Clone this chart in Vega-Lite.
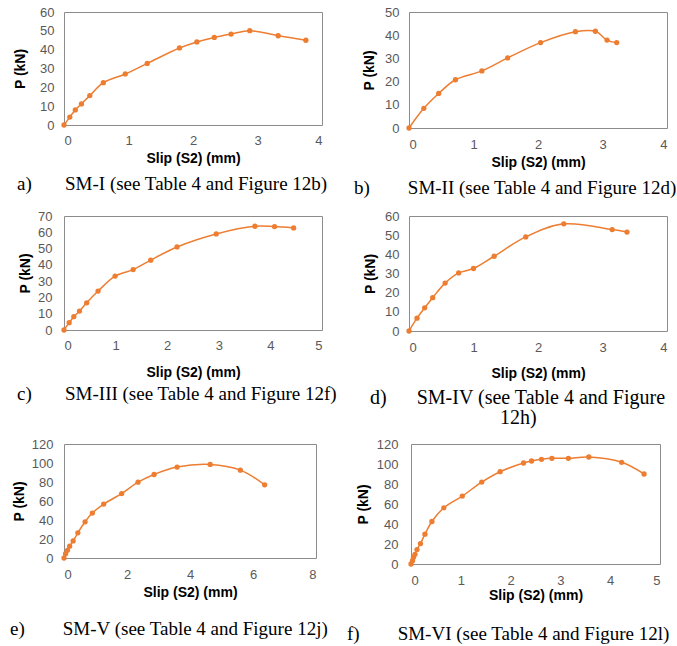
{
  "$schema": "https://vega.github.io/schema/vega-lite/v6.json",
  "background": "white",
  "padding": {"left": 9, "top": 5, "right": 0, "bottom": 0},
  "autosize": {"type": "pad"},
  "datasets": {
    "SM-I": [
      {"slip": 0, "P": 0}, {"slip": 0.09, "P": 4.2}, {"slip": 0.175, "P": 8.0}, {"slip": 0.27, "P": 11.2},
      {"slip": 0.40, "P": 15.6}, {"slip": 0.61, "P": 22.5}, {"slip": 0.95, "P": 27.1}, {"slip": 1.29, "P": 32.7},
      {"slip": 1.79, "P": 40.9}, {"slip": 2.06, "P": 44.1}, {"slip": 2.33, "P": 46.5}, {"slip": 2.59, "P": 48.3},
      {"slip": 2.88, "P": 50.1}, {"slip": 3.32, "P": 47.4}, {"slip": 3.75, "P": 45.0}
    ],
    "SM-II": [
      {"slip": 0, "P": 0}, {"slip": 0.23, "P": 8.5}, {"slip": 0.46, "P": 14.9}, {"slip": 0.72, "P": 20.8},
      {"slip": 1.13, "P": 24.6}, {"slip": 1.53, "P": 30.2}, {"slip": 2.04, "P": 36.8}, {"slip": 2.58, "P": 41.5},
      {"slip": 2.89, "P": 41.7}, {"slip": 3.07, "P": 37.9}, {"slip": 3.22, "P": 36.8}
    ],
    "SM-III": [
      {"slip": 0, "P": 0}, {"slip": 0.10, "P": 4.5}, {"slip": 0.19, "P": 8.2}, {"slip": 0.30, "P": 11.6},
      {"slip": 0.44, "P": 16.7}, {"slip": 0.66, "P": 23.9}, {"slip": 0.99, "P": 33.1}, {"slip": 1.34, "P": 37.1},
      {"slip": 1.68, "P": 42.9}, {"slip": 2.19, "P": 51.0}, {"slip": 2.95, "P": 59.0}, {"slip": 3.70, "P": 63.7},
      {"slip": 4.08, "P": 63.5}, {"slip": 4.45, "P": 62.7}
    ],
    "SM-IV": [
      {"slip": 0, "P": 0}, {"slip": 0.124, "P": 6.7}, {"slip": 0.243, "P": 12.1}, {"slip": 0.367, "P": 17.4},
      {"slip": 0.56, "P": 25.0}, {"slip": 0.77, "P": 30.3}, {"slip": 1.00, "P": 32.6}, {"slip": 1.32, "P": 39.0},
      {"slip": 1.81, "P": 49.1}, {"slip": 2.40, "P": 55.9}, {"slip": 3.15, "P": 52.9}, {"slip": 3.38, "P": 51.6}
    ],
    "SM-V": [
      {"slip": 0, "P": 0}, {"slip": 0.05, "P": 4.6}, {"slip": 0.11, "P": 8.1}, {"slip": 0.18, "P": 12.4},
      {"slip": 0.29, "P": 18.0}, {"slip": 0.44, "P": 26.5}, {"slip": 0.67, "P": 38.1}, {"slip": 0.90, "P": 47.3},
      {"slip": 1.26, "P": 56.8}, {"slip": 1.83, "P": 67.8}, {"slip": 2.35, "P": 79.8}, {"slip": 2.86, "P": 87.9},
      {"slip": 3.59, "P": 95.7}, {"slip": 4.64, "P": 98.5}, {"slip": 5.60, "P": 92.5}, {"slip": 6.37, "P": 77.0}
    ],
    "SM-VI": [
      {"slip": 0, "P": 0}, {"slip": 0.03, "P": 3.3}, {"slip": 0.05, "P": 6.7}, {"slip": 0.08, "P": 9.7},
      {"slip": 0.12, "P": 14.4}, {"slip": 0.19, "P": 20.4}, {"slip": 0.28, "P": 29.8}, {"slip": 0.42, "P": 42.5},
      {"slip": 0.66, "P": 56.2}, {"slip": 1.03, "P": 67.9}, {"slip": 1.42, "P": 81.9}, {"slip": 1.79, "P": 92.3},
      {"slip": 2.26, "P": 101.0}, {"slip": 2.42, "P": 103.0}, {"slip": 2.62, "P": 104.7}, {"slip": 2.83, "P": 105.7},
      {"slip": 3.16, "P": 105.7}, {"slip": 3.57, "P": 107.0}, {"slip": 4.23, "P": 101.7}, {"slip": 4.68, "P": 90.0}
    ]
  },
  "spacing": 8,
  "vconcat": [
    {
      "spacing": 10,
      "vconcat": [
        {
          "bounds": "flush",
          "spacing": 87,
          "hconcat": [
            {
              "width": 258, "height": 113,
              "data": {"name": "SM-I"},
              "title": {"text": "a)\u00a0\u00a0\u00a0\u00a0\u00a0\u00a0\u00a0SM-I (see Table 4 and Figure 12b)", "dx": -47, "offset": 10},
              "encoding": {
                "x": {"field": "slip", "type": "quantitative", "scale": {"domain": [0, 4], "nice": false}, "axis": {"values": [0, 1, 2, 3, 4], "title": "Slip (S2) (mm)", "labelPadding": 9, "titlePadding": 4}},
                "y": {"field": "P", "type": "quantitative", "scale": {"domain": [0, 60], "nice": false}, "axis": {"values": [0, 10, 20, 30, 40, 50, 60], "title": "P (kN)", "labelPadding": 10, "titlePadding": 12}}
              },
              "layer": [
                {"mark": {"type": "line", "interpolate": "catmull-rom", "color": "#ED7D31", "strokeWidth": 1.5}},
                {"mark": {"type": "circle", "color": "#ED7D31", "size": 28, "opacity": 1}}
              ]
            },
            {
              "width": 258, "height": 116,
              "data": {"name": "SM-II"},
              "title": {"text": "b)\u00a0\u00a0\u00a0\u00a0\u00a0\u00a0\u00a0\u00a0SM-II (see Table 4 and Figure 12d)", "dx": -55, "offset": 10},
              "encoding": {
                "x": {"field": "slip", "type": "quantitative", "scale": {"domain": [0, 4], "nice": false}, "axis": {"values": [0, 1, 2, 3, 4], "title": "Slip (S2) (mm)", "labelPadding": 10, "titlePadding": 4}},
                "y": {"field": "P", "type": "quantitative", "scale": {"domain": [0, 50], "nice": false}, "axis": {"values": [0, 10, 20, 30, 40, 50], "title": "P (kN)", "labelPadding": 10, "titlePadding": 8}}
              },
              "layer": [
                {"mark": {"type": "line", "interpolate": "catmull-rom", "color": "#ED7D31", "strokeWidth": 1.5}},
                {"mark": {"type": "circle", "color": "#ED7D31", "size": 28, "opacity": 1}}
              ]
            }
          ]
        },
        {
          "bounds": "flush",
          "spacing": 87,
          "hconcat": [
            {
              "width": 258, "height": 114,
              "data": {"name": "SM-III"},
              "title": {"text": "c)\u00a0\u00a0\u00a0\u00a0\u00a0\u00a0\u00a0SM-III (see Table 4 and Figure 12f)", "dx": -47, "offset": 6},
              "encoding": {
                "x": {"field": "slip", "type": "quantitative", "scale": {"domain": [0, 5], "nice": false}, "axis": {"values": [0, 1, 2, 3, 4, 5], "title": "Slip (S2) (mm)", "labelPadding": 9, "titlePadding": 13}},
                "y": {"field": "P", "type": "quantitative", "scale": {"domain": [0, 70], "nice": false}, "axis": {"values": [0, 10, 20, 30, 40, 50, 60, 70], "title": "P (kN)", "labelPadding": 12, "titlePadding": 5}}
              },
              "layer": [
                {"mark": {"type": "line", "interpolate": "catmull-rom", "color": "#ED7D31", "strokeWidth": 1.5}},
                {"mark": {"type": "circle", "color": "#ED7D31", "size": 28, "opacity": 1}}
              ]
            },
            {
              "width": 258, "height": 115,
              "data": {"name": "SM-IV"},
              "title": {"text": ["d)\u00a0\u00a0\u00a0\u00a0\u00a0\u00a0SM-IV (see Table 4 and Figure", "\u200b\u00a0\u00a0\u00a0\u00a0\u00a0\u00a0\u00a0\u00a0\u00a0\u00a0\u00a0\u00a0\u00a0\u00a0\u00a0\u00a0\u00a0\u00a0\u00a0\u00a0\u00a0\u00a0\u00a0\u00a0\u00a0\u00a012h)"], "dx": -39, "offset": 8, "fontSize": 20, "lineHeight": 20},
              "encoding": {
                "x": {"field": "slip", "type": "quantitative", "scale": {"domain": [0, 4], "nice": false}, "axis": {"values": [0, 1, 2, 3, 4], "title": "Slip (S2) (mm)", "labelPadding": 10, "titlePadding": 12}},
                "y": {"field": "P", "type": "quantitative", "scale": {"domain": [0, 60], "nice": false}, "axis": {"values": [0, 10, 20, 30, 40, 50, 60], "title": "P (kN)", "labelPadding": 10, "titlePadding": 7}}
              },
              "layer": [
                {"mark": {"type": "line", "interpolate": "catmull-rom", "color": "#ED7D31", "strokeWidth": 1.5}},
                {"mark": {"type": "circle", "color": "#ED7D31", "size": 28, "opacity": 1}}
              ]
            }
          ]
        }
      ]
    },
    {
      "bounds": "flush",
      "spacing": 95,
      "hconcat": [
        {
          "width": 252, "height": 114,
          "data": {"name": "SM-V"},
          "title": {"text": "e)\u00a0\u00a0\u00a0\u00a0\u00a0\u00a0\u00a0\u00a0SM-V (see Table 4 and Figure 12j)", "dx": -54, "offset": 21},
          "encoding": {
            "x": {"field": "slip", "type": "quantitative", "scale": {"domain": [0, 8], "nice": false}, "axis": {"values": [0, 2, 4, 6, 8], "title": "Slip (S2) (mm)", "labelPadding": 10, "titlePadding": 4}},
            "y": {"field": "P", "type": "quantitative", "scale": {"domain": [0, 120], "nice": false}, "axis": {"values": [0, 20, 40, 60, 80, 100, 120], "title": "P (kN)", "labelPadding": 11, "titlePadding": 5}}
          },
          "layer": [
            {"mark": {"type": "line", "interpolate": "catmull-rom", "color": "#ED7D31", "strokeWidth": 1.5}},
            {"mark": {"type": "circle", "color": "#ED7D31", "size": 28, "opacity": 1}}
          ]
        },
        {
          "width": 249, "height": 120,
          "data": {"name": "SM-VI"},
          "title": {"text": "f)\u00a0\u00a0\u00a0\u00a0\u00a0\u00a0\u00a0\u00a0SM-VI (see Table 4 and Figure 12l)", "dx": -64, "offset": 23},
          "encoding": {
            "x": {"field": "slip", "type": "quantitative", "scale": {"domain": [0, 5], "nice": false}, "axis": {"values": [0, 1, 2, 3, 4, 5], "title": "Slip (S2) (mm)", "labelPadding": 10, "titlePadding": 1}},
            "y": {"field": "P", "type": "quantitative", "scale": {"domain": [0, 120], "nice": false}, "axis": {"values": [0, 20, 40, 60, 80, 100, 120], "title": "P (kN)", "labelPadding": 13, "titlePadding": 6}}
          },
          "layer": [
            {"mark": {"type": "line", "interpolate": "catmull-rom", "color": "#ED7D31", "strokeWidth": 1.5}},
            {"mark": {"type": "circle", "color": "#ED7D31", "size": 28, "opacity": 1}}
          ]
        }
      ]
    }
  ],
  "config": {
    "view": {"stroke": "#8c8c8c", "strokeWidth": 1},
    "axis": {
      "domain": false, "ticks": false, "grid": false,
      "labelFont": "Liberation Sans", "labelFontSize": 13, "labelColor": "#595959",
      "titleFont": "Liberation Sans", "titleFontSize": 14, "titleFontWeight": "bold", "titleColor": "#000000"
    },
    "title": {
      "orient": "bottom", "anchor": "start", "frame": "group",
      "font": "Liberation Serif", "fontSize": 19, "fontWeight": "normal", "color": "#000000"
    }
  }
}
